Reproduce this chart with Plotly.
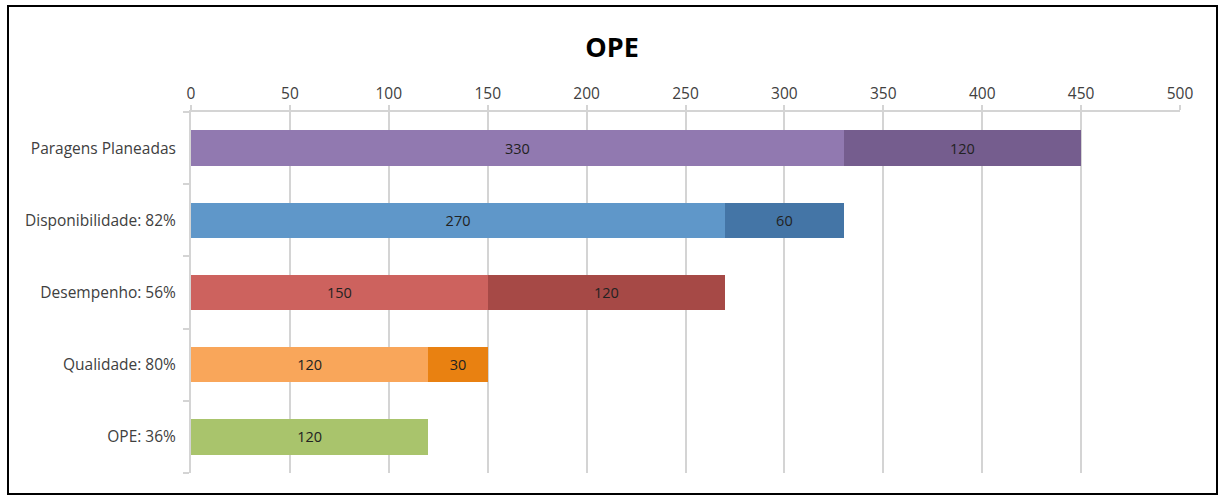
import plotly.graph_objects as go

categories = ["Paragens Planeadas", "Disponibilidade: 82%", "Desempenho: 56%", "Qualidade: 80%", "OPE: 36%"]
base_values = [330, 270, 150, 120, 120]
extra_values = [120, 60, 120, 30, None]
base_colors = ["#9179B0", "#5F97C9", "#CD625E", "#F9A65A", "#A9C46C"]
extra_colors = ["#755D8E", "#4475A6", "#A64946", "#E98111", "#A9C46C"]
x_ticks = [0, 50, 100, 150, 200, 250, 300, 350, 400, 450, 500]

FONT = "Open Sans, Lato, sans-serif"

fig = go.Figure()
fig.add_trace(go.Bar(
    y=categories, x=base_values, orientation="h",
    marker=dict(color=base_colors, line=dict(width=0)),
    text=[str(v) for v in base_values], textposition="inside",
    insidetextanchor="middle", textangle=0,
    textfont=dict(family=FONT, size=14.5, color="#222222"),
    showlegend=False, hoverinfo="x+y",
))
fig.add_trace(go.Bar(
    y=categories, x=extra_values, orientation="h",
    marker=dict(color=extra_colors, line=dict(width=0)),
    text=[str(v) if v is not None else "" for v in extra_values], textposition="inside",
    insidetextanchor="middle", textangle=0,
    textfont=dict(family=FONT, size=14.5, color="#222222"),
    showlegend=False, hoverinfo="x+y",
))

W, H = 1221, 497
L, R, T, B = 191, 41, 112, 24
pw, ph = W - L - R, H - T - B

def px(x):
    return (x - L) / pw

def py(y):
    return (H - B - y) / ph

fig.update_layout(
    width=W, height=H,
    barmode="stack", bargap=0.51,
    margin=dict(l=L, r=R, t=T, b=B),
    paper_bgcolor="white", plot_bgcolor="white",
    font=dict(family=FONT, size=15, color="#404040"),
    title=dict(text="<b>OPE</b>", x=612 / W, xanchor="center",
               y=1 - 48 / H, yanchor="middle", yref="container",
               font=dict(family=FONT, size=27, color="#000000")),
    xaxis=dict(
        side="top", range=[0, 500], tickvals=x_ticks,
        showgrid=True, gridcolor="#D4D4D4", gridwidth=2,
        showline=True, linecolor="#D4D4D4", linewidth=2,
        ticks="outside", ticklen=5, tickcolor="#D4D4D4", tickwidth=2,
        tickfont=dict(family=FONT, size=15.5, color="#404040"),
        zeroline=False, fixedrange=True,
    ),
    yaxis=dict(
        categoryorder="array", categoryarray=categories[::-1],
        showline=True, linecolor="#D4D4D4", linewidth=2,
        ticks="outside", ticklen=6, tickcolor="#D4D4D4", tickwidth=2,
        tickson="boundaries", ticklabelstandoff=10,
        tickfont=dict(family=FONT, size=15.5, color="#404040"),
        showgrid=False, zeroline=False, fixedrange=True,
    ),
    shapes=[
        dict(type="rect", xref="paper", yref="paper",
             x0=px(8), x1=px(1217), y0=py(494), y1=py(6),
             line=dict(color="#000000", width=2), fillcolor="rgba(0,0,0,0)", layer="below"),
    ],
)

fig.write_html("out.html")
